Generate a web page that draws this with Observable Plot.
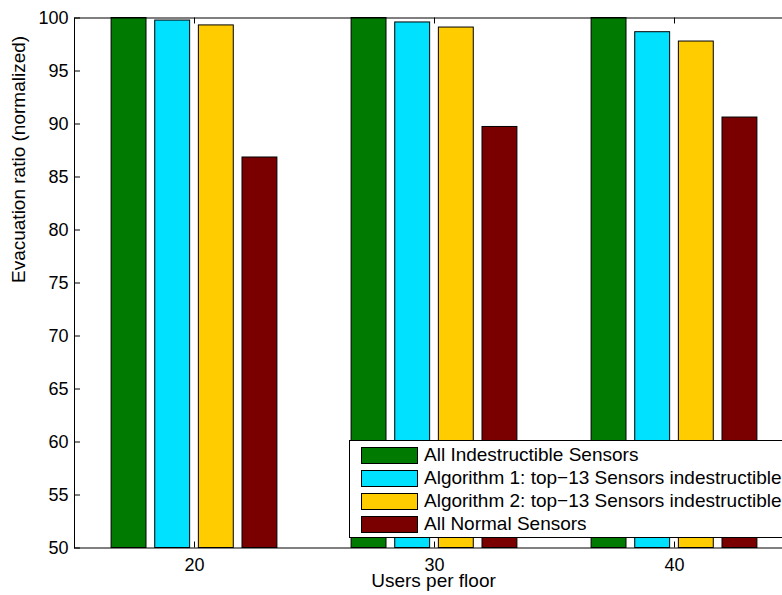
<!DOCTYPE html>
<html>
<head>
<meta charset="utf-8">
<script src="https://cdn.jsdelivr.net/npm/d3@7"></script>
<script src="https://cdn.jsdelivr.net/npm/@observablehq/plot@0.6"></script>
<style>
  html, body { margin: 0; padding: 0; background: #fff; }
  #wrap { position: relative; width: 782px; height: 595px; overflow: hidden; font-family: "Liberation Sans", Arial, sans-serif; }
  #legend { position: absolute; left: 349px; top: 440px; width: 460px; height: 98px; background: #fff; border: 1px solid #000; box-sizing: border-box; }
  .row { position: absolute; left: 11px; height: 18px; display: flex; align-items: center; font-size: 19px; color: #000; white-space: nowrap; }
  .sw { width: 57px; height: 17px; border: 1px solid #000; box-sizing: border-box; margin-right: 6px; flex: none; }
</style>
</head>
<body>
<div id="wrap"></div>
<script>
const groups = [20, 30, 40];
const series = ["All Indestructible Sensors", "Algorithm 1: top\u221213 Sensors indestructible", "Algorithm 2: top\u221213 Sensors indestructible", "All Normal Sensors"];
const allIndestructible = [100, 100, 100];
const algorithm1 = [99.76, 99.58, 98.66];
const algorithm2 = [99.3, 99.1, 97.78];
const allNormal = [86.84, 89.72, 90.61];
const colors = ["#007a00", "#00e0ff", "#ffcc00", "#7a0000"];
const yTicks = [50, 55, 60, 65, 70, 75, 80, 85, 90, 95, 100];
const yLabel = "Evacuation ratio (normalized)";
const xLabel = "Users per floor";

const valuesBySeries = [allIndestructible, algorithm1, algorithm2, allNormal];
const groupSpacing = 10;
const groupWidth = groupSpacing * 4 / 5.5;
const slot = groupWidth / 4;
const barW = slot * 0.8;
const data = [];
groups.forEach((g, gi) => {
  series.forEach((s, si) => {
    const c = g + (si - 1.5) * slot;
    data.push({group: g, series: s, value: valuesBySeries[si][gi], x1: c - barW / 2, x2: c + barW / 2});
  });
});

const W = 782, H = 595, mL = 74, mR = -12, mT = 17.5, mB = 47.5;
const frameW = W - mL - mR, frameH = H - mT - mB;

const chart = Plot.plot({
  width: W, height: H,
  marginLeft: mL, marginRight: mR, marginTop: mT, marginBottom: mB,
  style: {fontFamily: "'Liberation Sans', Arial, sans-serif", fontSize: "18px", color: "#000", background: "transparent"},
  x: {domain: [15, 45], range: [mL, W - mR]},
  y: {domain: [50, 100], range: [H - mB, mT]},
  color: {domain: series, range: colors},
  marks: [
    Plot.rect(data, {x1: "x1", x2: "x2", y1: 50, y2: "value", fill: "series", stroke: "#000", strokeWidth: 1}),
    Plot.tickY(yTicks, {y: d => d, insetRight: frameW - 6, stroke: "#000"}),
    Plot.tickX(groups, {x: d => d, insetTop: frameH - 6, stroke: "#000"}),
    Plot.tickX(groups, {x: d => d, insetBottom: frameH - 6, stroke: "#000"}),
    Plot.frame({stroke: "#000", strokeWidth: 1}),
    Plot.axisY({ticks: yTicks, tickSize: 0, tickPadding: 6, label: null, fontSize: 18}),
    Plot.axisX({ticks: groups, tickSize: 0, tickPadding: 10, label: null, fontSize: 18}),
    Plot.text([yLabel], {text: d => d, frameAnchor: "left", dx: -56, rotate: -90, fontSize: 19, fill: "#000"}),
    Plot.text([xLabel], {text: d => d, frameAnchor: "bottom", dy: 39, dx: -1, fontSize: 19, fill: "#000"})
  ]
});
const wrap = document.getElementById("wrap");
wrap.appendChild(chart);

const legend = document.createElement("div");
legend.id = "legend";
series.forEach((s, i) => {
  const row = document.createElement("div");
  row.className = "row";
  row.style.top = (5 + i * 23) + "px";
  const sw = document.createElement("div");
  sw.className = "sw";
  sw.style.background = colors[i];
  const t = document.createElement("span");
  t.textContent = s;
  row.appendChild(sw);
  row.appendChild(t);
  legend.appendChild(row);
});
wrap.appendChild(legend);
</script>
</body>
</html>
